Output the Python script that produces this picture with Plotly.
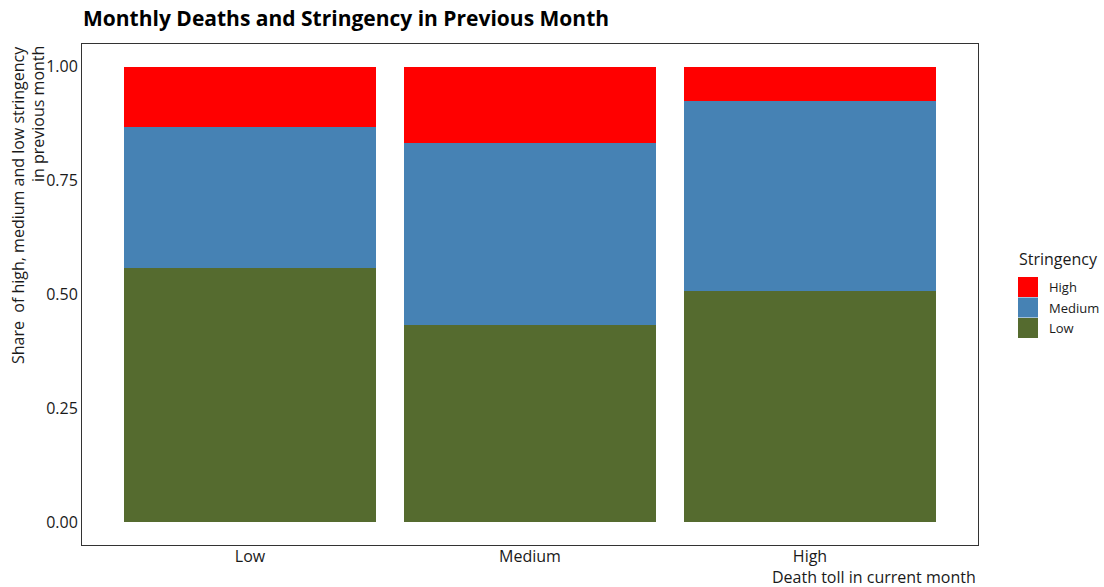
import plotly.graph_objects as go

categories = ["Low", "Medium", "High"]
low_share = [0.558, 0.432, 0.507]
medium_share = [0.310, 0.400, 0.418]
high_share = [0.132, 0.168, 0.075]
series_names = ["Low", "Medium", "High"]
series_colors = ["#556B2F", "#4682B4", "#FF0000"]
y_ticks = [0, 0.25, 0.5, 0.75, 1.0]
y_tick_labels = ["0.00", "0.25", "0.50", "0.75", "1.00"]

FONT = "Open Sans"

fig = go.Figure()
for name, vals, col in zip(series_names, [low_share, medium_share, high_share], series_colors):
    fig.add_trace(go.Bar(x=categories, y=vals, name=name, marker=dict(color=col, line=dict(width=0)),
                         showlegend=False))

fig.update_layout(
    width=1104, height=587,
    barmode="stack", bargap=0.1,
    plot_bgcolor="white", paper_bgcolor="white",
    margin=dict(l=82, r=126, t=44, b=42),
    font=dict(family=FONT, color="#1a1a1a"),
    title=dict(text="<b>Monthly Deaths and Stringency in Previous Month</b>",
               x=83/1104, xanchor="left", y=1-19/587, yanchor="middle",
               font=dict(size=21, color="black", family=FONT)),
)
fig.update_xaxes(range=[-0.6, 2.6], showline=True, linecolor="#333333", linewidth=1, mirror=True,
                 showgrid=False, zeroline=False, ticks="", ticklabelstandoff=-3,
                 tickfont=dict(size=16, color="#1a1a1a"))
fig.update_yaxes(range=[-0.05, 1.05], showline=True, linecolor="#333333", linewidth=1, mirror=True,
                 showgrid=False, zeroline=False, ticks="", tickvals=y_ticks, ticktext=y_tick_labels,
                 tickfont=dict(size=16, color="#1a1a1a"))

# axis titles (right-aligned lines -> both end at top)
fig.add_annotation(text="Share  of high, medium and low stringency", xref="paper", yref="paper",
                   x=0, y=1, xanchor="center", yanchor="top", yshift=0,
                   textangle=-90, showarrow=False, font=dict(size=16, color="#1a1a1a"),
                   xshift=-(82 - 18))
fig.add_annotation(text="in previous month", xref="paper", yref="paper",
                   x=0, y=1, xanchor="center", yanchor="top", yshift=0,
                   textangle=-90, showarrow=False, font=dict(size=16, color="#1a1a1a"),
                   xshift=-(82 - 38))
fig.add_annotation(text="Death toll in current month", xref="paper", yref="paper",
                   x=1, y=0, xanchor="right", yanchor="middle", yshift=-(577 - 545),
                   showarrow=False, font=dict(size=16, color="#1a1a1a"))

# legend (manual)
fig.add_annotation(text="Stringency", xref="paper", yref="paper", x=1, y=1, xanchor="left",
                   yanchor="middle", xshift=1017 - 978, yshift=-(259 - 44), showarrow=False,
                   font=dict(size=16, color="#1a1a1a"))
legend_items = list(zip(series_names, series_colors))[::-1]
for i, (name, col) in enumerate(legend_items):
    top = 277 + i * 20.5
    fig.add_shape(type="rect", xref="paper", yref="paper",
                  x0=1 + (1018 - 978) / 896, x1=1 + (1038 - 978) / 896,
                  y0=1 - (top - 44) / 501, y1=1 - (top + 20 - 44) / 501,
                  fillcolor=col, line=dict(width=0))
    fig.add_annotation(text=name, xref="paper", yref="paper", x=1, y=1 - (top + 10 - 44) / 501,
                       xanchor="left", yanchor="middle", xshift=1047 - 978, showarrow=False,
                       font=dict(size=13, color="#1a1a1a"))

fig.write_html("out.html", config={"displayModeBar": False},
               post_script="document.body.style.margin='0';document.body.style.overflow='hidden';")
